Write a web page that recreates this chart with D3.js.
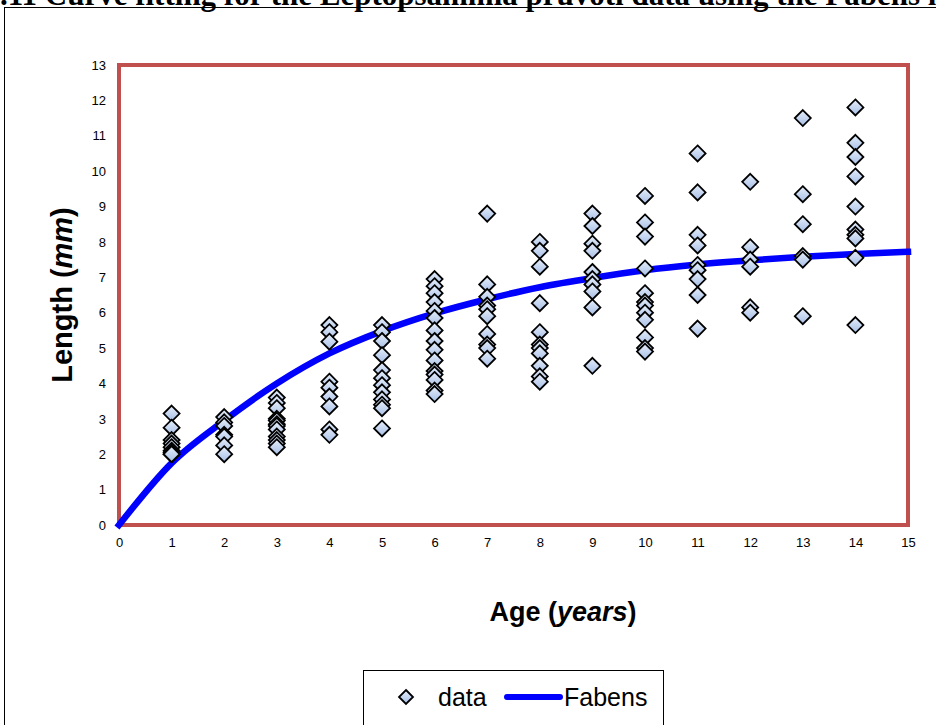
<!DOCTYPE html>
<html>
<head>
<meta charset="utf-8">
<script src="https://cdn.jsdelivr.net/npm/d3@7/dist/d3.min.js"></script>
<style>
  html, body { margin: 0; padding: 0; background: #fff; }
  svg { display: block; }
</style>
</head>
<body>
<svg id="chart" width="936" height="725"></svg>
<script>
// Observed coral lengths (mm) grouped by age (years)
const ages = [1, 2, 3, 4, 5, 6, 7, 8, 9, 10, 11, 12, 13, 14];
const lengthsByAge = [
  [3.15, 2.75, 2.4, 2.3, 2.2, 2.1, 2.05, 2.0, 2.0],
  [3.05, 2.9, 2.8, 2.55, 2.5, 2.25, 2.0],
  [3.6, 3.45, 3.3, 3.0, 2.95, 2.85, 2.8, 2.7, 2.5, 2.4, 2.3, 2.2],
  [5.65, 5.45, 5.18, 4.05, 3.88, 3.63, 3.35, 2.7, 2.55],
  [5.65, 5.45, 5.2, 4.8, 4.38, 4.15, 3.95, 3.75, 3.55, 3.4, 3.3, 2.73],
  [6.95, 6.75, 6.55, 6.3, 6.05, 5.85, 5.5, 5.2, 4.95, 4.65, 4.35, 4.25, 4.1, 3.8, 3.7],
  [8.8, 6.8, 6.45, 6.2, 6.1, 5.9, 5.4, 5.1, 5.0, 4.7],
  [8.0, 7.75, 7.3, 6.27, 5.45, 5.1, 5.0, 4.85, 4.5, 4.2, 4.05],
  [8.8, 8.45, 7.95, 7.75, 7.15, 6.95, 6.8, 6.6, 6.15, 4.5],
  [9.3, 8.55, 8.15, 7.25, 6.55, 6.3, 6.2, 6.0, 5.8, 5.3, 5.0, 4.9],
  [10.5, 9.4, 8.2, 7.9, 7.35, 7.2, 6.95, 6.5, 5.55],
  [9.7, 7.85, 7.5, 7.3, 6.15, 6.0],
  [11.5, 9.35, 8.5, 7.6, 7.5, 5.9],
  [11.8, 10.8, 10.4, 9.85, 9.0, 8.35, 8.2, 8.1, 7.55, 5.65]
];

// Fitted Fabens growth curve, length at each whole year
const curveAges = [0, 1, 2, 3, 4, 5, 6, 7, 8, 9, 10, 11, 12, 13, 14, 15];
const curveLengths = [0, 1.75, 2.95, 4.0, 4.85, 5.48, 5.98, 6.38, 6.72, 6.98, 7.2, 7.36, 7.48, 7.58, 7.66, 7.72];

const xTicks = d3.range(0, 16);
const yTicks = d3.range(0, 14);

const svg = d3.select("#chart");
const W = 936, H = 725;

svg.append("rect").attr("width", W).attr("height", H).attr("fill", "#fff");

// Caption running across the top edge
const cap = svg.append("text")
  .attr("y", 5)
  .attr("font-family", "'Liberation Serif', 'Times New Roman', serif")
  .attr("font-weight", "bold")
  .attr("font-size", 31)
  .attr("fill", "#000")
  .text("Figure 4.11 Curve fitting for the Leptopsammia pruvoti data using the Fabens method");
// shift so that ".11 Curve" begins at the left edge
const prefixW = cap.node().getSubStringLength(0, "Figure 4".length);
cap.attr("x", -prefixW);

// Outer chart frame
svg.append("rect")
  .attr("x", 4.5).attr("y", 7.5)
  .attr("width", 1200).attr("height", 1200)
  .attr("fill", "none").attr("stroke", "#000").attr("stroke-width", 1);

const x = d3.scaleLinear().domain([0, 15]).range([119, 908]);
const y = d3.scaleLinear().domain([0, 13]).range([525, 65]);

// Axes
const xAxis = svg.append("g")
  .attr("transform", `translate(0,${y(0)})`)
  .call(d3.axisBottom(x).tickValues(xTicks).tickFormat(d3.format("d")).tickSize(0).tickPadding(13));
const yAxis = svg.append("g")
  .attr("transform", `translate(${x(0)},0)`)
  .call(d3.axisLeft(y).tickValues(yTicks).tickFormat(d3.format("d")).tickSize(0).tickPadding(13));
[xAxis, yAxis].forEach(g => {
  g.select(".domain").remove();
  g.selectAll("text")
    .attr("font-family", "Arial, 'Liberation Sans', sans-serif")
    .attr("font-size", 13)
    .attr("fill", "#000");
});

// Plot area border
svg.append("rect")
  .attr("x", x(0)).attr("y", y(13))
  .attr("width", x(15) - x(0)).attr("height", y(0) - y(13))
  .attr("fill", "none").attr("stroke", "#C0504D").attr("stroke-width", 4);

// Diamond marker fill
const defs = svg.append("defs");
const grad = defs.append("linearGradient").attr("id", "dgrad")
  .attr("x1", 0).attr("y1", 0).attr("x2", 0).attr("y2", 1);
grad.append("stop").attr("offset", "0%").attr("stop-color", "#e6eefa");
grad.append("stop").attr("offset", "100%").attr("stop-color", "#a6bee6");

// Fabens curve
const line = d3.line()
  .x((d, i) => x(curveAges[i]))
  .y(d => y(d))
  .curve(d3.curveMonotoneX);
svg.append("path")
  .datum(curveLengths)
  .attr("d", line)
  .attr("fill", "none")
  .attr("stroke", "#0000ff")
  .attr("stroke-width", 6.5)
  .attr("stroke-linecap", "square")
  .attr("stroke-linejoin", "round");

// Data points
const points = [];
ages.forEach((a, i) => lengthsByAge[i].forEach(v => points.push({ age: a, len: v })));
const diamond = "M0,-8L8,0L0,8L-8,0Z";
svg.append("g").selectAll("path")
  .data(points)
  .join("path")
  .attr("d", diamond)
  .attr("transform", d => `translate(${x(d.age)},${y(d.len)})`)
  .attr("fill", "url(#dgrad)")
  .attr("stroke", "#000")
  .attr("stroke-width", 1.8)
  .attr("stroke-linejoin", "miter");

// Axis titles
const titleFont = "Arial, 'Liberation Sans', sans-serif";
const yt = svg.append("text")
  .attr("transform", `translate(72,295) rotate(-90)`)
  .attr("text-anchor", "middle")
  .attr("font-family", titleFont)
  .attr("font-weight", "bold")
  .attr("font-size", 29)
  .attr("fill", "#000");
yt.append("tspan").text("Length (");
yt.append("tspan").attr("font-style", "italic").text("mm");
yt.append("tspan").text(")");

const xt = svg.append("text")
  .attr("x", 563).attr("y", 621)
  .attr("text-anchor", "middle")
  .attr("font-family", titleFont)
  .attr("font-weight", "bold")
  .attr("font-size", 27)
  .attr("fill", "#000");
xt.append("tspan").text("Age (");
xt.append("tspan").attr("font-style", "italic").text("years");
xt.append("tspan").text(")");

// Legend
const lg = svg.append("g");
lg.append("rect")
  .attr("x", 363.5).attr("y", 670.5)
  .attr("width", 300).attr("height", 60)
  .attr("fill", "#fff").attr("stroke", "#000").attr("stroke-width", 1);
lg.append("path")
  .attr("d", "M0,-7L7,0L0,7L-7,0Z")
  .attr("transform", "translate(406,697)")
  .attr("fill", "url(#dgrad)").attr("stroke", "#000").attr("stroke-width", 1.8);
lg.append("text")
  .attr("x", 438).attr("y", 706)
  .attr("font-family", titleFont).attr("font-size", 25).attr("fill", "#000")
  .text("data");
lg.append("line")
  .attr("x1", 507).attr("x2", 560).attr("y1", 697).attr("y2", 697)
  .attr("stroke", "#0000ff").attr("stroke-width", 6).attr("stroke-linecap", "round");
lg.append("text")
  .attr("x", 564).attr("y", 706)
  .attr("font-family", titleFont).attr("font-size", 25).attr("fill", "#000")
  .text("Fabens");
</script>
</body>
</html>
